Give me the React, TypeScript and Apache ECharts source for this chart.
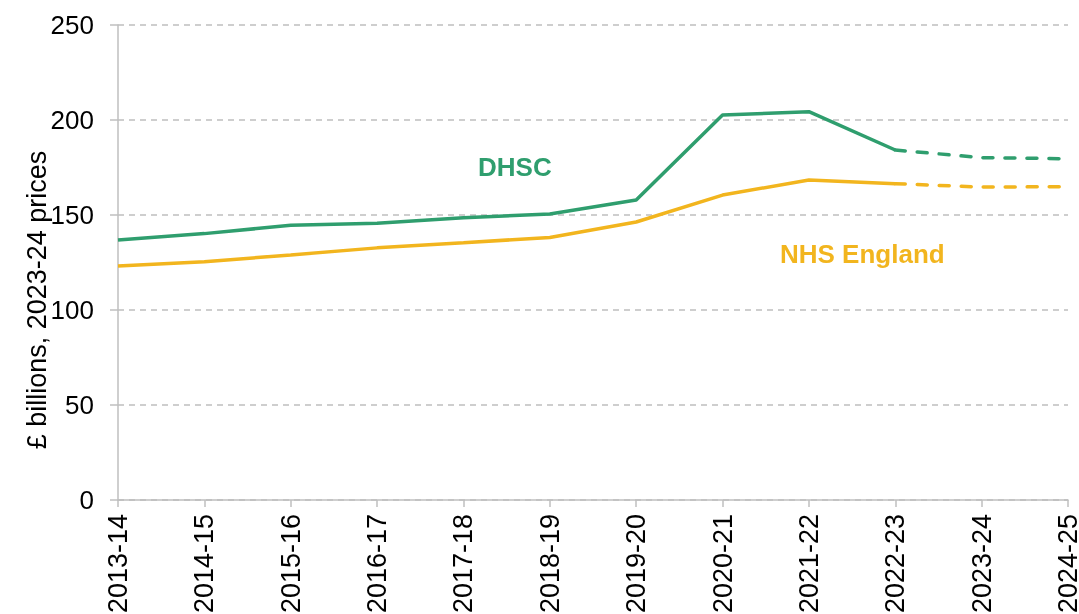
import React, { useEffect, useRef } from "react";
import * as echarts from "echarts";

const categories = ["2013-14", "2014-15", "2015-16", "2016-17", "2017-18", "2018-19", "2019-20", "2020-21", "2021-22", "2022-23", "2023-24", "2024-25"];
const dhsc = [136.8, 140.2, 144.6, 145.7, 148.6, 150.5, 157.9, 202.6, 204.4, 184.2, 180.2, 179.6];
const nhsEngland = [123.2, 125.4, 129.0, 132.7, 135.4, 138.2, 146.3, 160.5, 168.4, 166.5, 164.7, 164.9];
const projectionStart = 9; // index of 2022-23
const yTicks = { min: 0, max: 250, interval: 50 };
const yAxisTitle = "£ billions, 2023-24 prices";

const GREEN = "#2F9E6E";
const YELLOW = "#F2B51E";
const FONT = "Liberation Sans, Arial, sans-serif";

function solidPart(arr: number[]) {
  return arr.map((v, i) => (i <= projectionStart ? v : null));
}
function dashedPart(arr: number[]) {
  return arr.map((v, i) => (i >= projectionStart ? v : null));
}

export default function App() {
  const ref = useRef<HTMLDivElement>(null);
  useEffect(() => {
    if (!ref.current) return;
    const chart = echarts.init(ref.current, undefined, { renderer: "svg" });
    const lineBase = (name: string, color: string, data: (number | null)[], dashed: boolean) => ({
      name,
      type: "line",
      data,
      showSymbol: false,
      symbol: "none",
      connectNulls: false,
      lineStyle: { color, width: 3.5, type: dashed ? [10, 12] : "solid", cap: dashed ? "round" : "butt" },
      itemStyle: { color },
      z: 3,
    });
    chart.setOption({
      animation: false,
      textStyle: { fontFamily: FONT },
      grid: { left: 118, right: 11, top: 25, bottom: 114, containLabel: false, outerBoundsMode: "none" },
      xAxis: {
        type: "category",
        data: categories,
        boundaryGap: false,
        axisLine: { show: true, lineStyle: { color: "#BFBFBF", width: 1.5 } },
        axisTick: { show: true, alignWithLabel: true, length: 7, lineStyle: { color: "#BFBFBF", width: 1.5 } },
        axisLabel: { rotate: 90, color: "#000", fontSize: 27, fontFamily: FONT, margin: 14, interval: 0, hideOverlap: false },
        splitLine: { show: false },
      },
      yAxis: {
        type: "value",
        min: yTicks.min,
        max: yTicks.max,
        interval: yTicks.interval,
        axisLine: { show: true, lineStyle: { color: "#BFBFBF", width: 1.5 } },
        axisTick: { show: true, length: 8, lineStyle: { color: "#BFBFBF", width: 1.5 } },
        axisLabel: { color: "#000", fontSize: 26, fontFamily: FONT, margin: 24 },
        splitLine: { show: true, lineStyle: { color: "#BFBFBF", width: 1.5, type: [6, 5] } },
      },
      series: [
        lineBase("DHSC", GREEN, solidPart(dhsc), false),
        lineBase("DHSC (projected)", GREEN, dashedPart(dhsc), true),
        lineBase("NHS England", YELLOW, solidPart(nhsEngland), false),
        lineBase("NHS England (projected)", YELLOW, dashedPart(nhsEngland), true),
      ],
      graphic: [
        {
          type: "text",
          x: 37,
          y: 300,
          rotation: Math.PI / 2,
          style: { text: yAxisTitle, fill: "#000", font: `27px ${FONT}`, textAlign: "center", textVerticalAlign: "middle" },
        },
        { type: "text", left: 478, top: 154, style: { text: "DHSC", fill: GREEN, font: `bold 26px ${FONT}` } },
        { type: "text", left: 780, top: 241, style: { text: "NHS England", fill: YELLOW, font: `bold 26px ${FONT}` } },
      ],
    });
    return () => chart.dispose();
  }, []);
  return <div ref={ref} style={{ position: "fixed", left: 0, top: 0, width: 1079, height: 614 }} />;
}
